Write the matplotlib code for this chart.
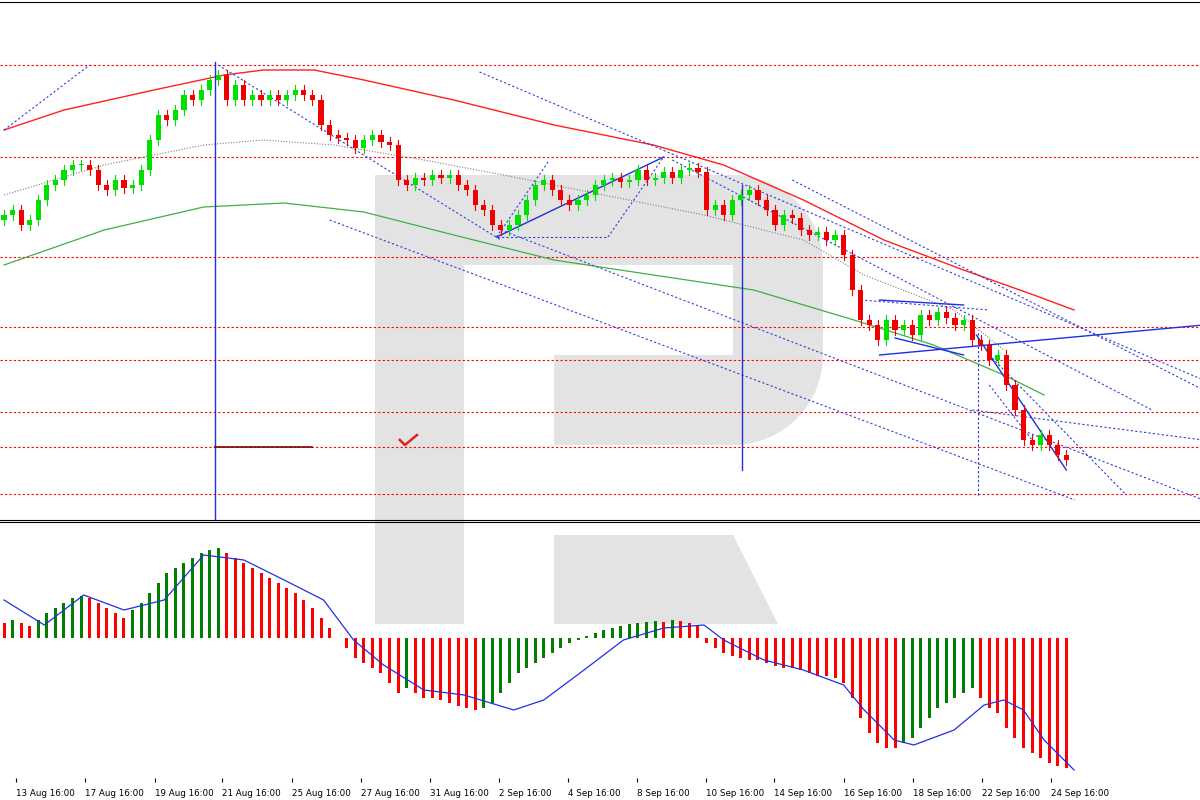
import matplotlib
matplotlib.use("Agg")
import matplotlib.pyplot as plt
from matplotlib.patches import Rectangle, Wedge, Polygon
import numpy as np

# close prices (arbitrary points)
closes = [305,310,295,300,320,335,340,350,355,355,350,335,330,340,332,335,350,380,405,400,
          410,425,420,430,440,445,420,435,420,425,420,425,420,425,430,425,420,395,385,382,
          380,372,380,385,378,375,340,335,342,340,345,342,345,335,330,315,310,295,290,295,
          305,320,335,340,330,320,315,320,325,335,340,342,338,340,350,340,342,348,342,350,
          352,348,310,315,305,320,325,330,320,310,295,305,302,290,285,288,280,285,265,230,
          200,195,180,200,190,195,185,205,200,208,202,195,200,180,175,160,165,135,110,80,
          75,85,75,65,60]
osc = [15,18,15,12,18,25,30,35,40,42,40,35,30,25,20,28,35,45,55,65,
       70,75,80,85,88,90,85,80,75,70,65,60,55,50,45,38,30,20,10,0,
       -10,-20,-25,-30,-35,-45,-55,-50,-55,-60,-60,-62,-65,-68,-70,-72,-70,-65,-55,-45,
       -35,-30,-25,-20,-15,-10,-5,-2,2,5,8,10,12,14,15,16,17,16,18,17,
       15,12,-5,-10,-15,-18,-20,-22,-22,-25,-28,-30,-30,-32,-35,-38,-38,-40,-45,-60,
       -80,-95,-105,-110,-110,-105,-100,-90,-80,-70,-65,-60,-55,-50,-60,-70,-75,-90,-100,-110,
       -115,-120,-125,-128,-130]
sig_i = [0,4.7,9.3,14,18.7,23.3,28,32.7,37.3,40.8,44.3,49,53.7,59.5,63,67.7,72.3,77,81.7,84,
         88.7,93.3,98,100.4,103.9,106.2,110.9,114.4,116.7,119,121.4,124.9]
sig_v = [38,13,43,28,38,83,78,58,38,-2,-27,-52,-57,-72,-62,-32,-2,10,13,-2,
         -22,-32,-47,-72,-102,-107,-92,-67,-62,-72,-102,-132]
red_i = [0,7,17.5,25.7,30.3,36.2,42,52.5,64.2,75.8,84,93.3,102.7,112,120.2,124.9]
red_v = [390,410,430,445,450,450,440,420,395,375,355,320,280,250,225,210]
grn_i = [0,11.7,23.3,32.7,42,52.5,64.2,75.8,87.5,99.2,108.5,116.7,121.4]
grn_v = [255,290,313,317,308,285,260,245,230,200,175,145,125]
gry_i = [0,11.7,23.3,30.3,38.5,49,58.3,70,81.7,93.3,100.4,110.9,116.7]
gry_v = [325,355,375,380,375,360,345,325,305,280,245,210,170]
levels = [455,363,263,193,160,108,73,26]
xlabels = ["13 Aug 16:00","17 Aug 16:00","19 Aug 16:00","21 Aug 16:00","25 Aug 16:00",
           "27 Aug 16:00","31 Aug 16:00","2 Sep 16:00","4 Sep 16:00","8 Sep 16:00",
           "10 Sep 16:00","14 Sep 16:00","16 Sep 16:00","18 Sep 16:00","22 Sep 16:00","24 Sep 16:00"]
xlabel_pos = [1.4,9.45,17.6,25.5,33.6,41.7,49.7,57.8,65.8,73.9,81.9,89.9,98,106.1,114.1,122.2]
blue_dotted = [([0,10],[390,455]),([25,58],[455,280]),([55.5,140],[448,140]),
               ([58,140],[290,20]),([38,125],[300,20]),([78,134],[360,110]),
               ([92,140],[340,130]),([57.5,63.5],[283,358]),([113,140],[110,80]),
               ([115,120],[135,80]),([115,131],[165,25]),([100,115],[220,210]),
               ([57.5,70.5],[283,283]),([70.5,77],[283,363])]
blue_solid = [([57.5,77],[283,363]),([102.2,140],[165,195]),([102.2,112],[220,215]),
              ([113.5,124],[185,50]),([104,112],[182,165])]

fig = plt.figure(figsize=(12, 8), dpi=100)
fig.patch.set_facecolor("white")

# watermark logo in figure pixels
bg = fig.add_axes([0, 0, 1, 1], zorder=-5)
bg.set_xlim(0, 1200); bg.set_ylim(800, 0); bg.axis("off")
wc = "#e3e3e3"
for r in [(375, 175, 89, 449), (464, 175, 269, 90), (733, 265, 90, 90),
          (554, 355, 179, 90)]:
    bg.add_patch(Rectangle((r[0], r[1]), r[2], r[3], color=wc, lw=0))
bg.add_patch(Wedge((733, 265), 90, 270, 360, color=wc, lw=0))
bg.add_patch(Wedge((733, 355), 90, 0, 90, color=wc, lw=0))
bg.add_patch(Polygon([(554, 535), (733, 535), (778, 624), (554, 624)], color=wc, lw=0))

xmin, xmax = -0.47, 139.6
ax = fig.add_axes([0, 280/800, 1, 518/800])
ax2 = fig.add_axes([0, 22/800, 1, 256/800])
for a in (ax, ax2):
    a.set_facecolor("none")
    a.set_xlim(xmin, xmax)
    for s in ("left", "right"):
        a.spines[s].set_visible(False)
    a.set_yticks([])
ax2.spines["bottom"].set_visible(False)
ax.set_ylim(0, 518)
ax.set_xticks([])
ax2.set_ylim(-140, 116)

idx = np.arange(len(closes))
opens = [closes[0] - 5] + closes[:-1]
for i, (o, c) in enumerate(zip(opens, closes)):
    col = "#00e000" if c >= o else "#f00000"
    hi, lo = max(o, c) + 5, min(o, c) - 5
    ax.plot([i, i], [lo, hi], color=col, lw=0.8, zorder=3)
    ax.bar(i, max(abs(c - o), 1.5), bottom=min(o, c), width=0.6, color=col, lw=0, zorder=4)

for lv in levels:
    ax.axhline(lv, color="#ff0000", ls=(0, (2, 2)), lw=0.8, zorder=1)
ax.plot(red_i, red_v, color="#ff2020", lw=1.0, zorder=2)
ax.plot(grn_i, grn_v, color="#40b040", lw=0.9, zorder=2)
ax.plot(gry_i, gry_v, color="#808080", lw=0.8, ls=(0, (1, 1.5)), zorder=2)
for xs, ys in blue_dotted:
    ax.plot(xs, ys, color="#3040e0", lw=0.8, ls=(0, (2, 2)), zorder=2)
for xs, ys in blue_solid:
    ax.plot(xs, ys, color="#2030e0", lw=1.0, zorder=2)
ax.plot([24.6, 24.6], [0, 458], color="#2030e0", lw=1.0)
ax.plot([86.1, 86.1], [50, 335], color="#2030e0", lw=1.0)
ax.plot([113.7, 113.7], [25, 190], color="#2030e0", lw=0.8, ls=(0, (2, 2)))
ax.plot([24.6, 36], [73, 73], color="#800000", lw=1.2)
ax.plot([46.2, 46.8, 48.2], [80, 75, 85], color="#e02020", lw=1.8)

ocol = ["#008000" if (i > 0 and v > osc[i-1]) else "#ff0000" for i, v in enumerate(osc)]
ax2.bar(idx, osc, width=0.35, color=ocol, zorder=2)
ax2.plot(sig_i, sig_v, color="#2030e0", lw=0.9, zorder=3)
ax2.set_xticks(xlabel_pos)
ax2.set_xticklabels(xlabels, fontsize=6.3, ha="left")
ax2.tick_params(axis="x", length=3, pad=5, direction="out")

fig.savefig("out.png", dpi=100)
